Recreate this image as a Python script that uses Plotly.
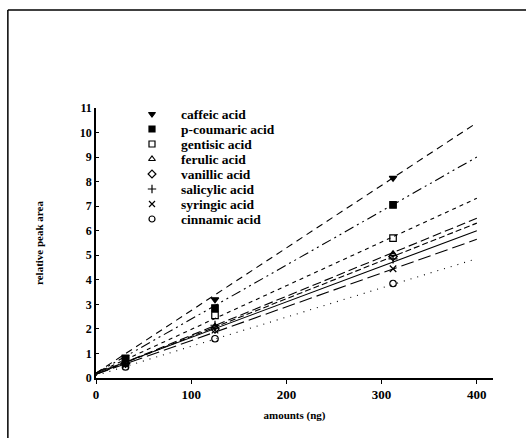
import plotly.graph_objects as go
import numpy as np

acids = ["caffeic acid", "p-coumaric acid", "gentisic acid", "ferulic acid",
         "vanillic acid", "salicylic acid", "syringic acid", "cinnamic acid"]
symbols = ["triangle-down", "square", "square-open", "triangle-up-open",
           "diamond-open", "cross-thin", "x-thin", "circle-open"]
dashes = ["7px,5px", "10px,4px,2px,4px,2px,4px", "4px,4px", "9px,4px",
          "6px,3px", "solid", "13px,5px", "1px,6px"]

amounts = [31, 125, 312]
points = {
    "caffeic acid":    [0.85, 3.2, 8.15],
    "p-coumaric acid": [0.8, 2.85, 7.05],
    "gentisic acid":   [0.7, 2.55, 5.7],
    "ferulic acid":    [0.65, 2.1, 5.05],
    "vanillic acid":   [0.6, 2.0, 4.95],
    "salicylic acid":  [0.6, 2.15, 4.85],
    "syringic acid":   [0.55, 1.95, 4.45],
    "cinnamic acid":   [0.45, 1.6, 3.85],
}
# regression lines: intercept, slope
intercepts = [0.2, 0.2, 0.2, 0.15, 0.15, 0.2, 0.15, 0.1]
slopes = [0.0255, 0.022, 0.0178, 0.0159, 0.0154, 0.0145, 0.01375, 0.0119]
line_x = [0, 400]

serif = "Liberation Serif"
fig = go.Figure()
for i, a in enumerate(acids):
    ly = [intercepts[i] + slopes[i] * xx for xx in line_x]
    fig.add_trace(go.Scatter(x=line_x, y=ly, mode="lines", showlegend=False,
                             line=dict(color="black", width=1.1, dash=dashes[i])))
for i, a in enumerate(acids):
    fig.add_trace(go.Scatter(x=amounts, y=points[a], mode="markers", name=a,
                             showlegend=False,
                             marker=dict(symbol=symbols[i], size=6.5, color="black",
                                         line=dict(color="black", width=1.2))))

# manual legend on a helper pixel-like axis (rows 15 px apart)
row_gap, row0, sym_x, txt_x = 15, 6, 56, 83
rows = [row0 + row_gap * i for i in range(len(acids))]
fig.add_trace(go.Scatter(x=[sym_x] * len(acids), y=rows, mode="markers",
                         xaxis="x2", yaxis="y2", showlegend=False, hoverinfo="skip",
                         marker=dict(symbol=symbols, size=6, color="black",
                                     line=dict(color="black", width=1.2))))
annotations = [dict(x=txt_x, y=r, xref="x2", yref="y2", text="<b>%s</b>" % a,
                    showarrow=False, xanchor="left", yanchor="middle",
                    font=dict(family=serif, size=13.5, color="black"))
               for a, r in zip(acids, rows)]

fig.update_layout(
    width=526, height=438,
    margin=dict(l=96, r=33, t=108, b=60),
    paper_bgcolor="white", plot_bgcolor="white",
    font=dict(family=serif, color="black", size=12),
    showlegend=False,
    xaxis=dict(range=[0, 417], tickvals=[0, 100, 200, 300, 400],
               ticktext=["<b>0</b>", "<b>100</b>", "<b>200</b>", "<b>300</b>", "<b>400</b>"],
               showgrid=False, zeroline=False, showline=True, linecolor="black",
               linewidth=1.5, ticks="outside", ticklen=4, tickcolor="black",
               tickfont=dict(family=serif, size=13),
               title=dict(text="<b>amounts (ng)</b>", font=dict(family=serif, size=11),
                          standoff=10)),
    yaxis=dict(range=[0, 11], tickvals=list(range(0, 12)),
               ticktext=["<b>%d</b>" % v for v in range(0, 12)],
               showgrid=False, zeroline=False, showline=True, linecolor="black",
               linewidth=1.5, ticks="inside", ticklen=3, tickcolor="black",
               tickfont=dict(family=serif, size=12),
               title=dict(text="<b>relative peak area</b>", font=dict(family=serif, size=11),
                          standoff=34)),
    xaxis2=dict(range=[0, 397], domain=[0, 1], anchor="y2", overlaying="x",
                visible=False, fixedrange=True),
    yaxis2=dict(range=[270, 0], domain=[0, 1], anchor="x2", overlaying="y",
                visible=False, fixedrange=True),
    annotations=annotations,
    shapes=[
        dict(type="line", xref="paper", yref="paper", x0=-0.222, x1=1.1,
             y0=1.363, y1=1.363, line=dict(color="black", width=1.5)),
        dict(type="line", xref="paper", yref="paper", x0=-0.222, x1=-0.222,
             y0=1.363, y1=-0.23, line=dict(color="black", width=1.5)),
    ],
)
fig.write_html("out.html")
